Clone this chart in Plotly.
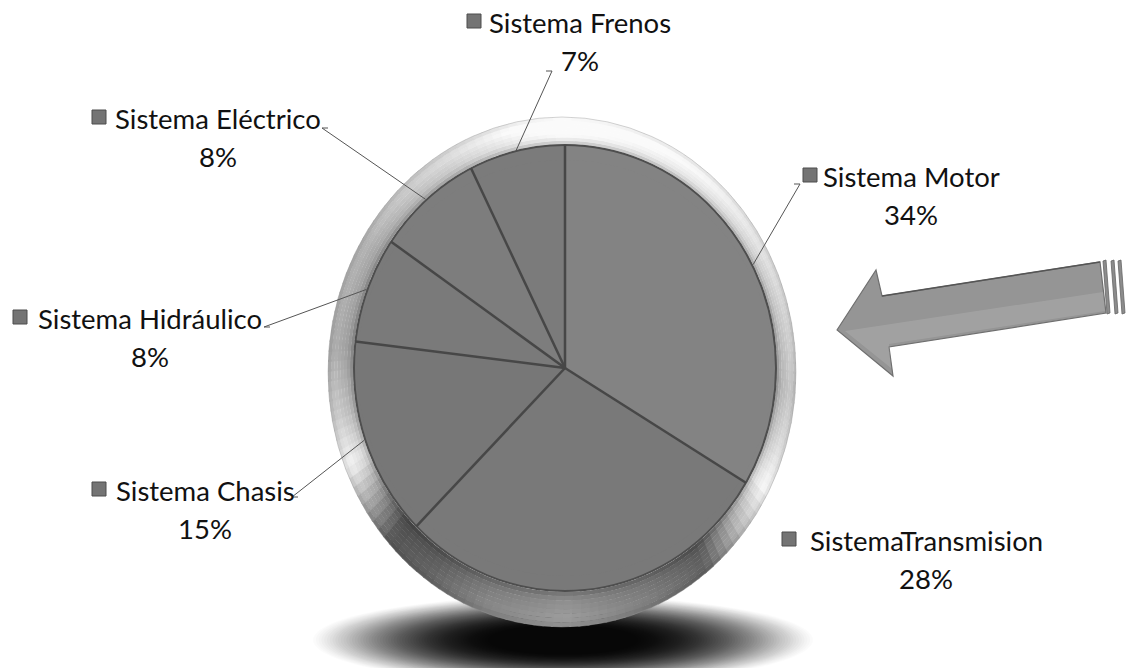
import math
import plotly.graph_objects as go

# ---------------- data ----------------
categories = ["Sistema Motor", "Sistema Transmision", "Sistema Chasis",
              "Sistema Hidráulico", "Sistema Eléctrico", "Sistema Frenos"]
label_text = ["Sistema Motor", "SistemaTransmision", "Sistema Chasis",
              "Sistema Hidráulico", "Sistema Eléctrico", "Sistema Frenos"]
values = [34, 28, 15, 8, 8, 7]

# ---------------- layout / style ----------------
W, H = 1126, 668
CX, CY, R = 565, 368, 208
ERX, ERY = 211, 223            # slightly elliptical pie body, as in the reference
slice_colors = ["#838383", "#797979", "#777777", "#7a7a7a", "#7d7d7d", "#7b7b7b"]
SEP_COLOR = "#474747"
FONT = "Lato"
FS = 27.5

# label placement: (text centre x, first line centre y, marker x, leader start or None)
label_pos = {
    "Sistema Motor": (911, 176, 810, (800, 184)),
    "Sistema Transmision": (926, 540, 789, None),
    "Sistema Chasis": (205, 490, 99, (292, 497)),
    "Sistema Hidráulico": (150, 318, 20, (264, 327)),
    "Sistema Eléctrico": (218, 118, 99, (322, 128)),
    "Sistema Frenos": (580, 22, 474, (552, 71)),
}
LINE_GAP = 38

fig = go.Figure()
shapes = []

# ---------- soft shadow under the pie ----------
n_sh = 64
for i in range(n_sh):
    t = i / (n_sh - 1)
    rx = 250 - 175 * t
    ry = 44 - 30 * t
    scx, scy = 563, 640
    alpha = 0.015 + 0.06 * t
    shapes.append(dict(type="circle", xref="x", yref="y", layer="below",
                       x0=scx - rx, x1=scx + rx, y0=scy - ry, y1=scy + ry,
                       fillcolor=f"rgba(0,0,0,{alpha:.3f})", line=dict(width=0)))

# ---------- metallic bezel ring ----------
key = [(0, 250), (40, 228), (75, 198), (95, 182), (108, 205), (118, 230),
       (130, 172), (142, 90), (158, 118), (180, 145), (200, 125), (216, 92),
       (228, 80), (238, 155), (248, 225), (260, 188), (275, 160), (300, 166),
       (330, 205), (350, 240), (360, 250)]


def gray_at(a):
    for (a0, g0), (a1, g1) in zip(key[:-1], key[1:]):
        if a0 <= a <= a1:
            return g0 + (g1 - g0) * (a - a0) / (a1 - a0)
    return key[-1][1]


inner_e = (CX, CY, ERX + 1, ERY + 1)
outer_e = (562, 372, 234, 255)
profile = [(0.0, 0.74), (0.10, 0.90), (0.30, 1.00), (0.55, 1.05), (0.75, 1.09), (0.90, 1.03), (1.0, 0.96)]


def prof(t):
    for (t0, f0), (t1, f1) in zip(profile[:-1], profile[1:]):
        if t0 <= t <= t1:
            return f0 + (f1 - f0) * (t - t0) / (t1 - t0)
    return profile[-1][1]


def ell(t):
    return tuple(i + (o - i) * t for i, o in zip(inner_e, outer_e))


def ell_pt(a, e):
    cx, cy, rx, ry = e
    r = math.radians(a)
    return cx + rx * math.sin(r), cy - ry * math.cos(r)


NB, NSEG = 8, 160
for b in range(NB):
    t0, t1 = b / NB, (b + 1) / NB
    e_in, e_out = ell(max(0, t0 - 0.01)), ell(t1)
    f = prof((t0 + t1) / 2)
    for k in range(NSEG):
        a0 = 360 * k / NSEG
        a1 = 360 * (k + 1) / NSEG + 0.5
        g = max(0, min(250, int(gray_at((a0 + a1) / 2) * f)))
        pts = [ell_pt(a0, e_out), ell_pt(a1, e_out), ell_pt(a1, e_in), ell_pt(a0, e_in)]
        path = "M " + " L ".join(f"{x:.2f},{y:.2f}" for x, y in pts) + " Z"
        shapes.append(dict(type="path", path=path, xref="x", yref="y", layer="below",
                           fillcolor=f"rgb({g},{g},{g})", line=dict(width=0)))

ocx, ocy, orx, ory = outer_e
shapes.append(dict(type="circle", xref="x", yref="y", layer="below",
                   x0=ocx - orx, x1=ocx + orx, y0=ocy - ory, y1=ocy + ory,
                   line=dict(color="rgba(150,150,150,0.4)", width=1)))


def ray_r(theta):
    s, c = math.sin(theta), math.cos(theta)
    return 1.0 / math.sqrt((s / ERX) ** 2 + (c / ERY) ** 2)


# slice boundaries from the data (clockwise from 12 o'clock)
total = sum(values)
bounds = [0.0]
for v in values:
    bounds.append(bounds[-1] + v / total * 360)

# elliptical pie body: one sector per slice (fills the part outside the plotly circle)
for i, col in enumerate(slice_colors):
    a0, a1 = bounds[i], bounds[i + 1]
    n = max(4, int((a1 - a0) / 2))
    pts = [(CX, CY)]
    for j in range(n + 1):
        th = math.radians(a0 + (a1 - a0) * j / n)
        rr = ray_r(th)
        pts.append((CX + rr * math.sin(th), CY - rr * math.cos(th)))
    path = "M " + " L ".join(f"{x:.2f},{y:.2f}" for x, y in pts) + " Z"
    shapes.append(dict(type="path", path=path, xref="x", yref="y", layer="below",
                       fillcolor=col, line=dict(color=col, width=1)))
shapes.append(dict(type="circle", xref="x", yref="y", layer="below",
                   x0=CX - ERX, x1=CX + ERX, y0=CY - ERY, y1=CY + ERY,
                   line=dict(color="#4e4e4e", width=2)))

# separators (above the pie) from the same data angles
for a in bounds[:-1]:
    th = math.radians(a)
    rr = ray_r(th)
    ex, ey = CX + rr * math.sin(th), CY - rr * math.cos(th)
    shapes.append(dict(type="path", xref="x", yref="y", layer="above",
                       path=f"M {CX},{CY} L {ex:.2f},{ey:.2f}",
                       line=dict(color=SEP_COLOR, width=2.5)))

# ---------- arrow ----------
arrow = [(837, 330), (876, 270), (882, 296), (1100, 262), (1106, 313), (889, 347), (893, 376)]
shapes.append(dict(type="path", xref="x", yref="y", layer="below",
                   path="M " + " L ".join(f"{x},{y}" for x, y in arrow) + " Z",
                   fillcolor="#959595", line=dict(color="#6f6f6f", width=1.2)))
shapes.append(dict(type="path", xref="x", yref="y", layer="below",
                   path="M 845,331 L 1103,292 L 1105,311 L 889,344 L 891,368 Z",
                   fillcolor="rgba(255,255,255,0.12)", line=dict(width=0)))
shapes.append(dict(type="path", xref="x", yref="y", layer="below",
                   path="M 882,296 L 1100,262", line=dict(color="#555555", width=1.5)))
for x0 in (1103, 1111, 1118):
    shapes.append(dict(type="path", xref="x", yref="y", layer="below",
                       path=f"M {x0},{261} L {x0+3},{260} L {x0+7},{313} L {x0+4},{314} Z",
                       fillcolor="#8c8c8c", line=dict(color="#666666", width=0.8)))

# ---------- leader lines derived from slice mid angles ----------
pcts = []
for i, (cat, v) in enumerate(zip(categories, values)):
    mid = math.radians((bounds[i] + bounds[i + 1]) / 2)
    pcts.append(round(v / total * 100))
    tx, ly, mx, start = label_pos[cat]
    if start is not None:
        rr = ray_r(mid) + 1
        ex, ey = CX + rr * math.sin(mid), CY - rr * math.cos(mid)
        sx, sy = start
        tick = 6 if ex < sx else -6
        shapes.append(dict(type="path", xref="x", yref="y", layer="above",
                           path=f"M {sx - tick},{sy} L {sx},{sy} L {ex:.1f},{ey:.1f}",
                           line=dict(color="#555555", width=1)))

# ---------- the pie ----------
fig.add_trace(go.Pie(
    labels=categories, values=values, sort=False, direction="clockwise", rotation=0,
    marker=dict(colors=slice_colors, line=dict(width=0)),
    textinfo="none", hoverinfo="label+percent", showlegend=False,
    domain=dict(x=[(CX - R) / W, (CX + R) / W], y=[1 - (CY + R) / H, 1 - (CY - R) / H]),
))

# ---------- legend-like markers and labels ----------
mxs, mys = [], []
annotations = []
for cat, lt, p in zip(categories, label_text, pcts):
    tx, ly, mx, _ = label_pos[cat]
    mxs.append(mx)
    mys.append(ly - 1)
    annotations.append(dict(x=tx, y=ly, xref="x", yref="y", text=lt, showarrow=False,
                            font=dict(family=FONT, size=FS, color="#111111"),
                            xanchor="center", yanchor="middle"))
    annotations.append(dict(x=tx, y=ly + LINE_GAP, xref="x", yref="y", text=f"{p}%", showarrow=False,
                            font=dict(family=FONT, size=FS, color="#111111"),
                            xanchor="center", yanchor="middle"))

fig.add_trace(go.Scatter(x=mxs, y=mys, mode="markers", hoverinfo="skip", showlegend=False,
                         marker=dict(symbol="square", size=14, color="#747474",
                                     line=dict(color="#4c4c4c", width=1))))

fig.update_layout(
    width=W, height=H, margin=dict(l=0, r=0, t=0, b=0),
    paper_bgcolor="white", plot_bgcolor="white",
    xaxis=dict(range=[0, W], visible=False, domain=[0, 1], fixedrange=True),
    yaxis=dict(range=[H, 0], visible=False, domain=[0, 1], fixedrange=True),
    shapes=shapes, annotations=annotations, showlegend=False,
)

fig.write_html("out.html")
